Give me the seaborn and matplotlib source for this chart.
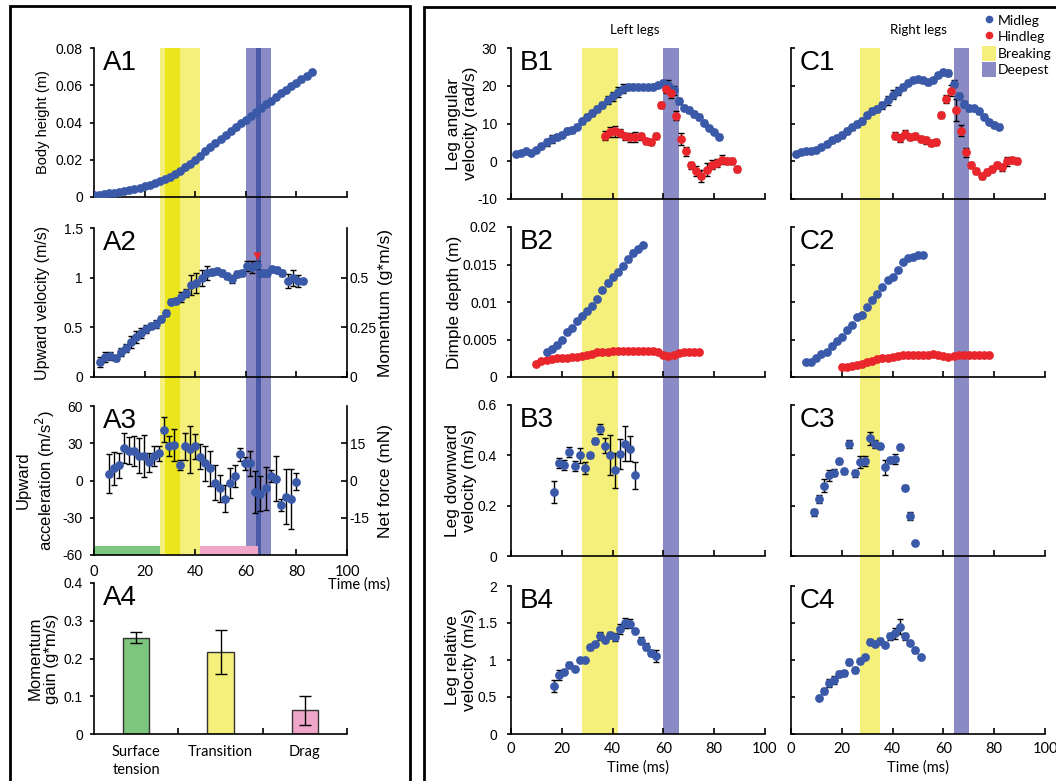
import matplotlib
matplotlib.use("Agg")
import matplotlib.pyplot as plt
from matplotlib.patches import Rectangle, Patch
from matplotlib.lines import Line2D
import seaborn as sns
import numpy as np

sns.set_theme(style="ticks")
plt.rcParams['font.family'] = ['Liberation Sans', 'DejaVu Sans']
plt.rcParams.update({
    'axes.unicode_minus': False,
    'axes.edgecolor': 'black', 'axes.linewidth': 1.2,
    'xtick.color': 'black', 'ytick.color': 'black',
    'text.color': 'black', 'axes.labelcolor': 'black',
    'xtick.major.width': 1.2, 'ytick.major.width': 1.2,
    'xtick.labelsize': 10, 'ytick.labelsize': 10,
})
LABEL_FONT = ['Lato', 'DejaVu Sans']

BLUE, RED = '#3a5aa9', '#e8262b'
YEL, YEL_D = '#f5ef7b', '#ebe51b'
PUR, PUR_D = '#8a8ac4', '#4a5aa8'
GREEN, PINK = '#7cc67e', '#f0a6c8'

# ---------------- data ----------------
time_ticks = [0, 20, 40, 60, 80, 100]
time_ticklabels = ['0', '20', '40', '60', '80', '100']

# shaded phases (ms)
a_breaking, a_breaking_core = (26, 42), (28, 34)
a_deepest, a_deepest_core = (60, 70), (64, 66)
b_breaking, b_deepest = (28, 42), (60, 66)
c_breaking, c_deepest = (27, 35), (64, 70)
phase_surface, phase_drag = (0, 26), (42, 65)

# A1 body height
a1_t = np.arange(0, 87, 2)
a1_h = [0.0010, 0.0012, 0.0016, 0.0020, 0.0024, 0.0029, 0.0034, 0.0039, 0.0045, 0.0051,
        0.0057, 0.0065, 0.0074, 0.0085, 0.0097, 0.0110, 0.0125, 0.0141, 0.0159, 0.0178,
        0.0200, 0.0222, 0.0245, 0.0268, 0.0291, 0.0313, 0.0334, 0.0355, 0.0375, 0.0395,
        0.0414, 0.0434, 0.0455, 0.0476, 0.0497, 0.0517, 0.0537, 0.0556, 0.0575, 0.0594,
        0.0612, 0.0631, 0.0650, 0.0670]
a1_err = [0.0003, 0.0003, 0.0003, 0.0003, 0.0004, 0.0004, 0.0004, 0.0004, 0.0005, 0.0005,
          0.0005, 0.0005, 0.0006, 0.0006, 0.0006, 0.0006, 0.0007, 0.0007, 0.0007, 0.0007,
          0.0008, 0.0008, 0.0008, 0.0008, 0.0008, 0.0008, 0.0009, 0.0009, 0.0009, 0.0009,
          0.0009, 0.0009, 0.0010, 0.0010, 0.0010, 0.0010, 0.0010, 0.0010, 0.0011, 0.0011,
          0.0011, 0.0011, 0.0012, 0.0012]

# A2 upward velocity
a2_t = np.arange(2.5, 83, 2)
a2_v = [0.15, 0.20, 0.21, 0.19, 0.25, 0.29, 0.35, 0.40, 0.44, 0.485,
        0.51, 0.53, 0.585, 0.645, 0.76, 0.77, 0.81, 0.85, 0.93, 0.95,
        1.0, 1.045, 1.06, 1.07, 1.045, 1.02, 0.985, 1.035, 1.05, 1.12,
        1.11, 1.13, 1.05, 1.05, 1.085, 1.075, 1.045, 0.97, 1.0, 0.965, 0.965]
a2_err = [0.05, 0.05, 0.04, 0.03, 0.04, 0.04, 0.06, 0.06, 0.05, 0.04,
          0.03, 0.04, 0.03, 0.03, 0.03, 0.03, 0.05, 0.04, 0.10, 0.10,
          0.08, 0.07, 0.03, 0.03, 0.03, 0.03, 0.04, 0.03, 0.03, 0.05,
          0.06, 0.04, 0.03, 0.03, 0.02, 0.03, 0.03, 0.07, 0.08, 0.06, 0.02]
a2_peak_t, a2_peak_v = [64.5], [1.22]

# A3 upward acceleration
a3_t = np.arange(5.8, 80, 2)
a3_a = [5.6, 9.7, 12.3, 26, 24, 24, 20, 20, 14.5, 19.6,
        22, 41, 28, 28.4, 12.3, 27.6, 25, 27.6, 19, 13.7,
        9.7, -1.9, -6.4, -14.5, -1.9, 3.8, 21, 13.7, 13.7, -9,
        -10.5, -6.4, 3.5, 1.6, -19.8, -13, -15, -1]
a3_err = [16, 13, 10, 12, 11, 12, 14, 17, 8, 8,
          6, 10, 8, 13, 4, 11, 19, 10, 10, 14,
          14, 14, 11, 11, 12, 9, 5, 5, 10, 17,
          14, 17, 5, 18, 5, 22, 24, 7]

# A4 momentum gain
a4_cats = ['Surface\ntension', 'Transition', 'Drag']
a4_gain = [0.255, 0.218, 0.063]
a4_err = [0.015, 0.058, 0.038]

# B1 / C1 leg angular velocity
b1_mid_t = np.arange(2, 83, 2)
b1_mid = [1.8, 2.2, 2.6, 2.3, 3.0, 4.0, 5.0, 5.9, 6.4, 7.0,
          7.9, 8.4, 9.2, 10.6, 11.8, 12.8, 13.8, 15.0, 16.2, 17.2,
          18.3, 19.2, 19.7, 19.8, 19.7, 19.7, 19.6, 19.8, 20.2, 20.8,
          20.3, 18.8, 16.0, 14.2, 13.5, 12.6, 11.8, 10.2, 8.8, 7.8, 6.5]
b1_mid_err = [0.5, 0.5, 0.5, 0.5, 0.6, 0.7, 1.0, 1.0, 0.8, 0.7,
              0.8, 0.8, 0.6, 0.6, 0.7, 0.8, 0.8, 0.8, 1.0, 1.2,
              1.3, 1.2, 0.8, 0.6, 0.6, 0.6, 0.6, 0.6, 0.6, 0.8,
              1.2, 1.2, 0.8, 0.6, 0.8, 0.8, 0.8, 0.6, 0.6, 0.6, 0.6]
b1_hind_t = np.arange(37, 90, 2)
b1_hind = [6.8, 7.7, 7.9, 7.5, 6.6, 6.4, 6.4, 6.6, 5.3, 5.0,
           6.6, 14.9, 19.2, 18.1, 12.1, 5.9, 2.6, -1.1, -2.6, -3.8,
           -2.2, -0.9, -0.4, 0.4, 0.0, 0.0, -2.0]
b1_hind_err = [1.2, 1.3, 1.4, 1.0, 1.0, 1.2, 1.4, 1.0, 0.8, 0.8,
               0.8, 0.8, 1.0, 1.4, 1.3, 1.6, 1.2, 1.0, 1.4, 1.6,
               1.8, 1.2, 1.0, 1.2, 0.8, 0.8, 0.8]

c1_mid_t = np.arange(2, 83, 2)
c1_mid = [2.0, 2.4, 2.7, 2.8, 3.0, 3.8, 4.6, 5.5, 6.2, 7.0,
          8.0, 9.0, 9.9, 10.7, 12.2, 13.4, 13.9, 14.8, 16.1, 17.6,
          18.6, 19.7, 20.8, 21.5, 21.7, 21.4, 20.9, 21.5, 22.8, 23.6,
          23.3, 20.5, 17.3, 15.2, 14.0, 14.0, 13.2, 11.8, 10.4, 9.7, 9.2]
c1_mid_err = [0.5, 0.5, 0.5, 0.5, 0.6, 0.6, 0.6, 0.6, 0.7, 0.8,
              0.8, 0.7, 0.7, 0.7, 0.7, 0.8, 0.8, 1.0, 1.2, 1.2,
              1.0, 0.8, 0.7, 0.6, 0.6, 0.6, 0.6, 0.6, 0.6, 0.7,
              0.8, 0.9, 0.8, 0.7, 0.6, 0.6, 0.6, 0.6, 0.6, 0.6, 0.6]
c1_hind_t = np.arange(41, 90, 2)
c1_hind = [6.8, 6.1, 7.2, 6.3, 6.6, 5.9, 5.5, 4.8, 5.2, 12.3,
           16.5, 18.7, 13.6, 8.1, 2.4, -1.1, -2.7, -3.8, -2.9, -2.0,
           -0.9, -1.6, 0.0, 0.4, 0.0]
c1_hind_err = [1.0, 1.0, 1.0, 0.8, 0.8, 0.8, 0.8, 0.8, 0.8, 0.8,
               1.0, 1.4, 3.0, 1.4, 1.2, 0.8, 0.8, 0.8, 0.8, 0.8,
               0.8, 1.0, 1.2, 0.8, 0.8]

# B2 / C2 dimple depth
b2_mid_t = np.arange(14, 53, 2)
b2_mid = [0.0034, 0.0038, 0.0043, 0.0050, 0.0060, 0.0065, 0.0075, 0.0081, 0.0088, 0.0095,
          0.0104, 0.0116, 0.0126, 0.0133, 0.0140, 0.0148, 0.0157, 0.0166, 0.0171, 0.0176]
b2_mid_err = [0.0002, 0.0002, 0.0002, 0.0002, 0.0003, 0.0002, 0.0002, 0.0002, 0.0002, 0.0002,
              0.0002, 0.0003, 0.0003, 0.0002, 0.0002, 0.0003, 0.0003, 0.0003, 0.0002, 0.0002]
b2_hind_t = np.arange(10, 75, 2)
b2_hind = [0.0018, 0.0022, 0.0023, 0.0024, 0.0025, 0.0026, 0.0026, 0.0027, 0.0027, 0.0028,
           0.0029, 0.0031, 0.0033, 0.0034, 0.0034, 0.0035, 0.0035, 0.0035, 0.0035, 0.0035,
           0.0035, 0.0035, 0.0035, 0.0035, 0.0033, 0.0029, 0.0028, 0.0030, 0.0032, 0.0033,
           0.0033, 0.0034, 0.0034]
b2_hind_err = [0.0002] * 5 + [0.00015] * 23 + [0.0002] * 5

c2_mid_t = np.arange(6, 53, 2)
c2_mid = [0.0020, 0.0020, 0.0025, 0.0031, 0.0034, 0.0041, 0.0048, 0.0053, 0.0063, 0.0070,
          0.0080, 0.0083, 0.0093, 0.0103, 0.0111, 0.0120, 0.0130, 0.0133, 0.0143, 0.0154,
          0.0159, 0.0160, 0.0163, 0.0163]
c2_mid_err = [0.0002] * 24
c2_hind_t = np.arange(20, 79, 2)
c2_hind = [0.0013, 0.0014, 0.0015, 0.0016, 0.0018, 0.0020, 0.0022, 0.0024, 0.0025, 0.0026,
           0.0027, 0.0028, 0.0029, 0.0030, 0.0030, 0.0030, 0.0030, 0.0030, 0.0031, 0.0030,
           0.0028, 0.0027, 0.0028, 0.0029, 0.0029, 0.0030, 0.0029, 0.0029, 0.0029, 0.0029]
c2_hind_err = [0.00015] * 30

# B3 / C3 leg downward velocity
b3_t = np.arange(17, 50, 2)
b3_v = [0.255, 0.368, 0.36, 0.414, 0.358, 0.40, 0.35, 0.40, 0.457, 0.503,
        0.438, 0.40, 0.341, 0.405, 0.447, 0.427, 0.32]
b3_err = [0.045, 0.02, 0.02, 0.02, 0.02, 0.03, 0.025, 0.01, 0.01, 0.02,
          0.03, 0.08, 0.07, 0.06, 0.07, 0.05, 0.055]
c3_t = np.arange(9, 50, 2)
c3_v = [0.173, 0.226, 0.28, 0.32, 0.331, 0.377, 0.337, 0.444, 0.328, 0.373,
        0.378, 0.468, 0.445, 0.437, 0.352, 0.381, 0.385, 0.433, 0.272, 0.16, 0.052]
c3_err = [0.015, 0.015, 0.025, 0.02, 0.015, 0.01, 0.01, 0.015, 0.015, 0.025,
          0.02, 0.025, 0.015, 0.01, 0.03, 0.01, 0.02, 0.01, 0.01, 0.015, 0.005]

# B4 / C4 leg relative velocity
b4_t = np.arange(17, 58, 2)
b4_v = [0.643, 0.80, 0.836, 0.935, 0.88, 1.0, 1.0, 1.17, 1.22, 1.325,
        1.27, 1.34, 1.31, 1.42, 1.50, 1.49, 1.39, 1.26, 1.18, 1.09, 1.055]
b4_err = [0.08, 0.07, 0.03, 0.04, 0.03, 0.03, 0.03, 0.03, 0.03, 0.05,
          0.03, 0.04, 0.05, 0.07, 0.07, 0.06, 0.03, 0.05, 0.05, 0.04, 0.08]
c4_t = np.arange(11, 52, 2)
c4_v = [0.49, 0.58, 0.69, 0.73, 0.81, 0.82, 0.97, 0.86, 0.99, 1.04,
        1.25, 1.22, 1.26, 1.20, 1.32, 1.36, 1.45, 1.32, 1.23, 1.13, 1.04]
c4_err = [0.02, 0.04, 0.06, 0.05, 0.04, 0.03, 0.04, 0.04, 0.03, 0.03,
          0.04, 0.03, 0.04, 0.03, 0.05, 0.07, 0.10, 0.05, 0.03, 0.03, 0.02]

legend_labels = ['Midleg', 'Hindleg', 'Breaking', 'Deepest']

# ---------------- figure ----------------
W, H = 1056, 781
fig = plt.figure(figsize=(W / 100, H / 100), dpi=100)


def make_axes(l, t, r, b):
    ax = fig.add_axes([l / W, 1 - b / H, (r - l) / W, (b - t) / H])
    ax.set_facecolor('none')
    return ax


def shade(l, t, r, b, spans):
    bg = make_axes(l, t, r, b)
    bg.set_xlim(0, 100)
    bg.axis('off')
    for (x0, x1), col in spans:
        bg.axvspan(x0, x1, color=col, lw=0)


def style(ax, ylim, yticks, ylabels, ydir='out', ypad=5, show_x=False):
    ax.set_xlim(0, 100)
    ax.set_ylim(*ylim)
    ax.set_xticks(time_ticks)
    ax.set_xticklabels(time_ticklabels if show_x else [], family=LABEL_FONT, fontsize=10.5)
    ax.set_yticks(yticks)
    ax.set_yticklabels(ylabels if ylabels else [])
    ax.tick_params(axis='x', direction='in', length=4, pad=6)
    ax.tick_params(axis='y', direction=ydir, length=3, pad=ypad)
    sns.despine(ax=ax)


def dots(ax, t, v, err, color):
    ax.errorbar(t, v, yerr=err, fmt='none', ecolor='black', elinewidth=1,
                capsize=2.5, capthick=1, zorder=2)
    sns.scatterplot(x=t, y=v, ax=ax, color=color, s=40, linewidth=0, zorder=3)


def tag(ax, text):
    ax.text(0.035, 0.985, text, transform=ax.transAxes, fontsize=20, va='top', ha='left')


def ylab(ax, text, x, size):
    ax.set_ylabel(text, fontsize=size, linespacing=1.15)
    ax.yaxis.set_label_coords(x, 0.5)


# column backgrounds
shade(94, 48, 347, 555, [(a_breaking, YEL), (a_breaking_core, YEL_D),
                         (a_deepest, PUR), (a_deepest_core, PUR_D)])
shade(511, 48, 765, 734, [(b_breaking, YEL), (b_deepest, PUR)])
shade(791, 48, 1045, 734, [(c_breaking, YEL), (c_deepest, PUR)])

# ---- A1
ax = make_axes(94, 48, 347, 197)
dots(ax, a1_t, a1_h, a1_err, BLUE)
style(ax, (0, 0.08), [0, 0.02, 0.04, 0.06, 0.08], ['0', '0.02', '0.04', '0.06', '0.08'])
ylab(ax, 'Body height (m)', -0.174, 10.5)
tag(ax, 'A1')

# ---- A2
ax = make_axes(94, 228, 347, 377)
dots(ax, a2_t, a2_v, a2_err, BLUE)
sns.scatterplot(x=a2_peak_t, y=a2_peak_v, ax=ax, color=RED, marker='v', s=35, linewidth=0, zorder=4)
style(ax, (0, 1.5), [0, 0.5, 1, 1.5], ['0', '0.5', '1', '1.5'])
ylab(ax, 'Upward velocity (m/s)', -0.174, 11.5)
tag(ax, 'A2')
tw = ax.twinx()
tw.set_ylim(0, 0.75)
tw.set_yticks([0, 0.25, 0.5], ['0', '0.25', '0.5'])
tw.tick_params(axis='y', direction='in', length=4, pad=2)
for s in ['top', 'left', 'bottom']:
    tw.spines[s].set_visible(False)
tw.set_ylabel('Momentum (g*m/s)', fontsize=12.5)
tw.yaxis.set_label_coords(1.123, 0.5)

# ---- A3
ax = make_axes(94, 406, 347, 555)
for (x0, x1), col in [(phase_surface, GREEN), (phase_drag, PINK)]:
    ax.fill_between([x0, x1], -60, -52.5, color=col, lw=0, zorder=1)
dots(ax, a3_t, a3_a, a3_err, BLUE)
style(ax, (-60, 60), [-60, -30, 0, 30, 60], ['-60', '-30', '0', '30', '60'], show_x=True)
ax.tick_params(axis='x', pad=7)
ylab(ax, 'Upward\nacceleration (m/s$^2$)', -0.146, 12)
tag(ax, 'A3')
tw = ax.twinx()
tw.set_ylim(-30, 30)
tw.set_yticks([-15, 0, 15], ['-15', '0', '15'])
tw.tick_params(axis='y', direction='in', length=4, pad=2)
for s in ['top', 'left', 'bottom']:
    tw.spines[s].set_visible(False)
tw.set_ylabel('Net force (mN)', fontsize=12.5)
tw.yaxis.set_label_coords(1.123, 0.5)
fig.text(390 / W, 1 - 585 / H, 'Time (ms)', ha='right', va='center',
         family=LABEL_FONT, fontsize=10.5)

# ---- A4
ax = make_axes(94, 583, 347, 734)
sns.barplot(x=a4_cats, y=a4_gain, hue=a4_cats, palette=[GREEN, YEL, PINK], legend=False,
            saturation=1, width=0.31, edgecolor='#333333', linewidth=1, ax=ax, zorder=2)
ax.errorbar(range(3), a4_gain, yerr=a4_err, fmt='none', ecolor='black', elinewidth=1,
            capsize=4, capthick=1, zorder=3)
ax.set_xlim(-0.5, 2.5)
ax.set_ylim(0, 0.4)
ax.set_yticks([0, 0.1, 0.2, 0.3, 0.4], ['0', '0.1', '0.2', '0.3', '0.4'])
ax.set_xticks([0.5, 1.5, 2.5], ['', '', ''])
ax.set_xticks([0, 1, 2], a4_cats, minor=True, family=LABEL_FONT, fontsize=10.5, linespacing=1.35)
ax.tick_params(axis='x', which='major', direction='in', length=4)
ax.tick_params(axis='x', which='minor', length=0, pad=8)
ax.tick_params(axis='y', direction='out', length=3, pad=5)
for lab in ax.get_xticklabels(minor=True):
    lab.set_verticalalignment('top')
sns.despine(ax=ax)
ylab(ax, 'Momentum\ngain (g*m/s)', -0.138, 12)
tag(ax, 'A4')

# ---- B / C columns
rows = [(48, 199), (227, 377), (405, 556), (586, 734)]
row_specs = [
    ((-10, 30), [-10, 0, 10, 20, 30], ['-10', '0', '10', '20', '30'], 'Leg angular\nvelocity (rad/s)', -0.13),
    ((0, 0.02), [0, 0.005, 0.01, 0.015, 0.02], ['0', '0.005', '0.01', '0.015', '0.02'], 'Dimple depth (m)', -0.193),
    ((0, 0.6), [0, 0.2, 0.4, 0.6], ['0', '0.2', '0.4', '0.6'], 'Leg downward\nvelocity (m/s)', -0.134),
    ((0, 2), [0, 0.5, 1, 1.5, 2], ['0', '0.5', '1', '1.5', '2'], 'Leg relative\nvelocity (m/s)', -0.134),
]
b_series = [
    [(b1_mid_t, b1_mid, b1_mid_err, BLUE), (b1_hind_t, b1_hind, b1_hind_err, RED)],
    [(b2_hind_t, b2_hind, b2_hind_err, RED), (b2_mid_t, b2_mid, b2_mid_err, BLUE)],
    [(b3_t, b3_v, b3_err, BLUE)],
    [(b4_t, b4_v, b4_err, BLUE)],
]
c_series = [
    [(c1_mid_t, c1_mid, c1_mid_err, BLUE), (c1_hind_t, c1_hind, c1_hind_err, RED)],
    [(c2_hind_t, c2_hind, c2_hind_err, RED), (c2_mid_t, c2_mid, c2_mid_err, BLUE)],
    [(c3_t, c3_v, c3_err, BLUE)],
    [(c4_t, c4_v, c4_err, BLUE)],
]

for i, ((top, bot), (ylim, yt, yl, label, lx)) in enumerate(zip(rows, row_specs)):
    last = i == len(rows) - 1
    axb = make_axes(511, top, 765, bot)
    for t, v, e, col in b_series[i]:
        dots(axb, t, v, e, col)
    style(axb, ylim, yt, yl, ydir='out', ypad=7, show_x=last)
    ylab(axb, label, lx, 12.5)
    tag(axb, 'B%d' % (i + 1))

    axc = make_axes(791, top, 1045, bot)
    for t, v, e, col in c_series[i]:
        dots(axc, t, v, e, col)
    style(axc, ylim, yt, None, ydir='in', show_x=last)
    tag(axc, 'C%d' % (i + 1))
    if last:
        for a in (axb, axc):
            a.set_xlabel('Time (ms)', family=LABEL_FONT, fontsize=10.5, labelpad=3)

fig.text(635 / W, 1 - 30 / H, 'Left legs', ha='center', va='center', family=LABEL_FONT, fontsize=9.5)
fig.text(918 / W, 1 - 30 / H, 'Right legs', ha='center', va='center', family=LABEL_FONT, fontsize=9.5)

handles = [
    Line2D([], [], marker='o', ls='none', color=BLUE, markersize=5.5, markeredgewidth=0),
    Line2D([], [], marker='o', ls='none', color=RED, markersize=5.5, markeredgewidth=0),
    Patch(facecolor=YEL, edgecolor='none'),
    Patch(facecolor=PUR, edgecolor='none'),
]
fig.legend(handles, legend_labels, loc='upper left', bbox_to_anchor=(982 / W, 1 - 13 / H),
           frameon=False, borderpad=0, borderaxespad=0, handlelength=1.0, handleheight=1.3,
           handletextpad=0.15, labelspacing=0.08, prop={'family': LABEL_FONT, 'size': 10})

# outer frames
fig.add_artist(Rectangle((10 / W, -0.05), 400 / W, 1.05 - 6 / H, transform=fig.transFigure,
                         fill=False, lw=2, edgecolor='black', clip_on=False))
fig.add_artist(Rectangle((424 / W, -0.05), 660 / W, 1.05 - 7 / H, transform=fig.transFigure,
                         fill=False, lw=2, edgecolor='black', clip_on=False))

fig.savefig('out.png', dpi=100)
